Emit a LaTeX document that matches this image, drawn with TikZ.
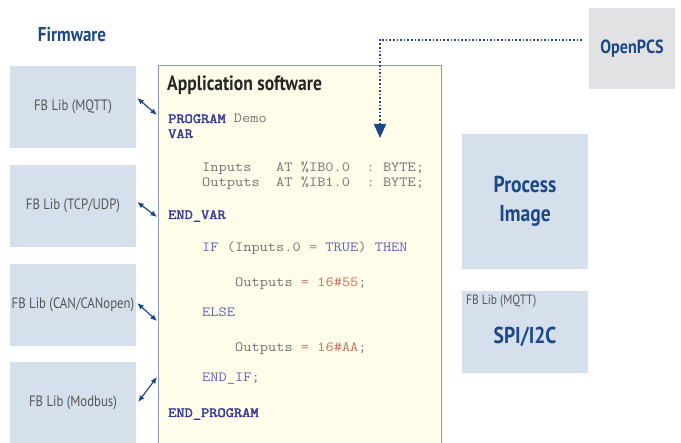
\documentclass[tikz,border=0pt]{standalone}
\usepackage{fontspec}
\setmainfont{PT Sans}
\newfontfamily\cond[FakeStretch=0.85]{PT Sans}
\newfontfamily\codefont[FakeStretch=1.14,BoldFont={Latin Modern Mono},BoldFeatures={FakeBold=2.5}]{Latin Modern Mono}
\usetikzlibrary{arrows.meta}
\definecolor{libfill}{RGB}{214,224,236}
\definecolor{appfill}{RGB}{255,253,234}
\definecolor{appdraw}{RGB}{140,150,190}
\definecolor{navy}{RGB}{28,72,135}
\definecolor{graytxt}{RGB}{85,85,85}
\definecolor{pcsfill}{RGB}{226,226,228}
\definecolor{kw}{RGB}{55,60,150}
\definecolor{kwb}{RGB}{95,100,180}
\definecolor{codegray}{RGB}{115,115,115}
\definecolor{num}{RGB}{200,110,100}
\newcommand{\kwB}[1]{{\bfseries\color{kw}#1}}
\newcommand{\kwN}[1]{{\color{kwb}#1}}
\newcommand{\numc}[1]{{\color{num}#1}}
\begin{document}
\begin{tikzpicture}[x=1pt,y=-1pt,
  libbox/.style={fill=libfill,draw=none,minimum width=126pt,minimum height=82pt,inner sep=0pt,text=graytxt,font=\cond\fontsize{15}{17}\selectfont},
  heading/.style={text=navy,font=\cond\bfseries\fontsize{20}{22}\selectfont,inner sep=0pt},
  code/.style={anchor=base west,inner sep=0pt,text=codegray,font=\codefont\fontsize{14}{15}\selectfont},
  bidir/.style={{Latex[length=6.5pt,width=5.5pt]}-{Latex[length=6.5pt,width=5.5pt]},line width=1.2pt,draw=navy},
  dotline/.style={dotted,line width=1.6pt,draw=navy,-{Triangle[length=14pt,width=12pt]}}
]
\clip (0,0) rectangle (681,443);
\fill[white] (0,0) rectangle (681,443);

\node[heading] (fw) at (72,35) {Firmware};

\node[libbox] (lib1) at (73,107) {FB Lib (MQTT)};
\node[libbox] (lib2) at (73,206) {FB Lib (TCP/UDP)};
\node[libbox] (lib3) at (73,305) {FB Lib (CAN/CANopen)};
\node[libbox] (lib4) at (73,403) {FB Lib (Modbus)};

\node[draw=appdraw,line width=1.2pt,fill=appfill,minimum width=283pt,minimum height=420pt,anchor=north west,inner sep=0pt] (app) at (158,65) {};
\node[anchor=west,inner sep=0pt,font=\cond\bfseries\fontsize{20.7}{22}\selectfont,text=black!85] (title) at (167,85) {Application software};

\node[code] (c1) at (168,123) {\kwB{PROGRAM} Demo};
\node[code] (c2) at (168,138) {\kwB{VAR}};
\node[code] (c3) at (202,172) {Inputs\ \ \ AT\ \%IB0.0\ \ :\ BYTE;};
\node[code] (c4) at (202,187) {Outputs\ \ AT\ \%IB1.0\ \ :\ BYTE;};
\node[code] (c5) at (168,219) {\kwB{END\_VAR}};
\node[code] (c6) at (202,252) {\kwN{IF} (Inputs.0 \numc{=} \kwN{TRUE}) \kwN{THEN}};
\node[code] (c7) at (235,287) {Outputs \numc{= 16\#55};};
\node[code] (c8) at (202,317) {\kwN{ELSE}};
\node[code] (c9) at (235,352) {Outputs \numc{= 16\#AA};};
\node[code] (c10) at (202,382) {\kwN{END\_IF;}};
\node[code] (c11) at (168,417) {\kwB{END\_PROGRAM}};

\node[fill=pcsfill,minimum width=86pt,minimum height=81pt,inner sep=0pt,text=navy,font=\cond\bfseries\fontsize{19}{21}\selectfont] (pcs) at (632,48.5) {OpenPCS};

\node[fill=libfill,minimum width=126pt,minimum height=135pt,inner sep=0pt,text=navy,align=center,font=\cond\bfseries\fontsize{23}{29}\selectfont] (pi) at (525,201.5) {Process\\Image};

\node[fill=libfill,minimum width=126pt,minimum height=82pt,inner sep=0pt] (spi) at (525,332) {};
\node[anchor=west,inner sep=0pt,text=graytxt,font=\cond\fontsize{13.5}{15}\selectfont] (spilib) at (466,301) {FB Lib (MQTT)};
\node[inner sep=0pt,text=navy,font=\cond\bfseries\fontsize{23}{25}\selectfont] (spitxt) at (525,337) {SPI/I2C};

\draw[bidir] ([xshift=1pt,yshift=9pt]lib1.east) -- ([xshift=-1pt,yshift=-50pt]app.north west);
\draw[bidir] ([xshift=1pt,yshift=4pt]lib2.east) -- ([xshift=-1pt,yshift=-152pt]app.north west);
\draw[bidir] ([xshift=1pt,yshift=2pt]lib3.east) -- ([xshift=-1pt,yshift=-256pt]app.north west);
\draw[bidir] ([xshift=2pt,yshift=1pt]lib4.east) -- ([xshift=-1pt,yshift=-312pt]app.north west);

\coordinate (tip) at (380,138);
\draw[dotline] ([xshift=-7pt,yshift=8.5pt]pcs.west) -| (tip);
\end{tikzpicture}
\end{document}
